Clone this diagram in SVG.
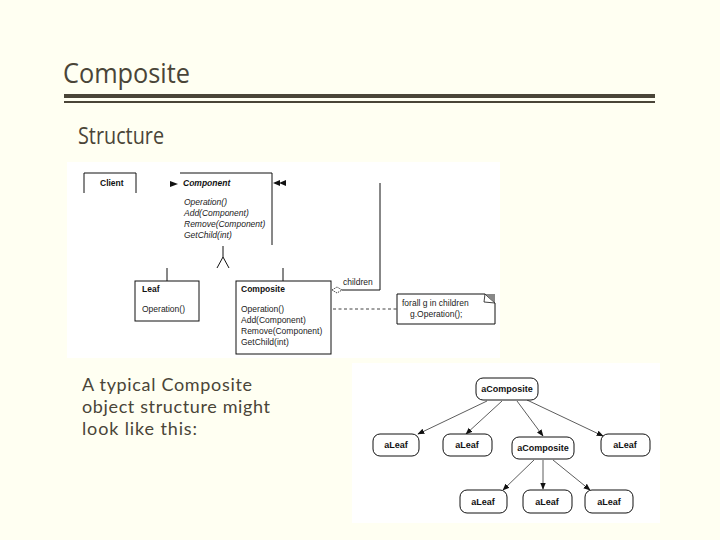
<svg xmlns="http://www.w3.org/2000/svg" width="720" height="540" viewBox="0 0 720 540">
<defs>
<style>
.bg{fill:#FFFFF2}
.panel{fill:#FFFFFF}
.title{font-family:"Open Sans","Liberation Sans",sans-serif;fill:#4a4538}
.body{font-family:"Lato","Open Sans","Liberation Sans",sans-serif;font-weight:400;fill:#4a4538;font-size:18px}
.u{font-family:"Liberation Sans",Arial,sans-serif;font-size:8.5px;fill:#222}
.ub{font-family:"Liberation Sans",Arial,sans-serif;font-size:8.5px;font-weight:bold;fill:#111}
.ui{font-family:"Liberation Sans",Arial,sans-serif;font-size:8.5px;font-style:italic;fill:#222}
.ubi{font-family:"Liberation Sans",Arial,sans-serif;font-size:8.5px;font-style:italic;font-weight:bold;fill:#111}
.ln{stroke:#111;stroke-width:1;fill:none}
.box{fill:#fff;stroke:#111;stroke-width:1}
.obj{fill:#fff;stroke:#111;stroke-width:1}
.ot{font-family:"Liberation Sans",Arial,sans-serif;font-size:9px;font-weight:bold;fill:#111;text-anchor:middle}
.oa{stroke:#333;stroke-width:0.8;fill:none}
</style>
<marker id="ah" viewBox="0 0 10 10" refX="9" refY="5" markerWidth="7" markerHeight="7" orient="auto-start-reverse" markerUnits="userSpaceOnUse">
<path d="M0,1 L10,5 L0,9 Z" fill="#111"/>
</marker>
</defs>
<rect class="bg" x="0" y="0" width="720" height="540"/>
<g id="header">
<text class="title" x="63" y="83" font-size="28" textLength="127" lengthAdjust="spacingAndGlyphs">Composite</text>
<rect x="64" y="94" width="591" height="4" fill="#4a4538"/>
<rect x="64" y="101" width="591" height="2" fill="#4a4538"/>
<text class="title" x="78" y="144" font-size="23" textLength="86" lengthAdjust="spacingAndGlyphs">Structure</text>
</g>
<rect class="panel" x="67" y="162" width="433" height="196"/>
<rect class="panel" x="352" y="363" width="308" height="160"/>
<g id="caption">
<text class="body" x="82" y="391" textLength="170" lengthAdjust="spacing">A typical Composite</text>
<text class="body" x="82" y="413" textLength="188" lengthAdjust="spacing">object structure might</text>
<text class="body" x="82" y="435" textLength="115" lengthAdjust="spacing">look like this:</text>
</g>
<g id="uml-connectors">
<polygon points="170,181 178,184 170,187" fill="#111"/>
<polygon points="273,183 280,180 280,186" fill="#111"/>
<polygon points="279,183 286,180 286,186" fill="#111"/>
<polyline class="ln" points="342,290 380,290 380,183"/>
<polygon points="332,290 337,287 342,290 337,293" fill="#fff" stroke="#111" stroke-width="0.8" stroke-dasharray="1.5,1"/>
<line class="ln" x1="223" y1="246" x2="223" y2="257"/>
<polyline class="ln" points="217,268 223,257 229,268"/>
<line class="ln" x1="167" y1="268" x2="167" y2="281"/>
<line class="ln" x1="283" y1="268" x2="283" y2="281"/>
<line x1="300" y1="309" x2="397" y2="309" stroke="#111" stroke-width="0.8" stroke-dasharray="3,2.5"/>
<polyline points="293,307 299,309 293,311" fill="none" stroke="#111" stroke-width="0.8"/>
</g>
<g id="client">
<polyline class="ln" points="84,193 84,173 136,173 136,193"/>
<text class="ub" x="100" y="186">Client</text>
</g>
<g id="component">
<polyline class="ln" points="180,173 272,173 272,245"/>
<text class="ubi" x="183" y="186">Component</text>
<text class="ui" x="184" y="205">Operation()</text>
<text class="ui" x="184" y="216">Add(Component)</text>
<text class="ui" x="184" y="227">Remove(Component)</text>
<text class="ui" x="184" y="238">GetChild(int)</text>
</g>
<g id="leaf">
<rect class="box" x="135" y="281" width="64" height="40"/>
<text class="ub" x="142" y="292">Leaf</text>
<text class="u" x="142" y="312">Operation()</text>
</g>
<g id="composite">
<rect class="box" x="236" y="281" width="95" height="73"/>
<text class="ub" x="241" y="292">Composite</text>
<text class="u" x="241" y="312">Operation()</text>
<text class="u" x="241" y="323">Add(Component)</text>
<text class="u" x="241" y="334">Remove(Component)</text>
<text class="u" x="241" y="345">GetChild(int)</text>
<text class="u" x="343" y="285">children</text>
</g>
<g id="note">
<path d="M397,294 H485 L495,303 V324 H397 Z" fill="#fff" stroke="#111" stroke-width="1"/>
<polygon points="485,294 495,294 495,303" fill="#888"/>
<polyline points="485,294 484,302 495,303" fill="none" stroke="#111" stroke-width="0.8"/>
<text class="u" x="402" y="306">forall g in children</text>
<text class="u" x="410" y="317">g.Operation();</text>
</g>
<g id="object-connectors">
<line class="oa" x1="487" y1="401" x2="418" y2="434" marker-end="url(#ah)"/>
<line class="oa" x1="502" y1="401" x2="466" y2="434" marker-end="url(#ah)"/>
<line class="oa" x1="517" y1="401" x2="543" y2="436" marker-end="url(#ah)"/>
<line class="oa" x1="527" y1="400" x2="603" y2="436" marker-end="url(#ah)"/>
<line class="oa" x1="534" y1="460" x2="503" y2="490" marker-end="url(#ah)"/>
<line class="oa" x1="543" y1="460" x2="543" y2="489" marker-end="url(#ah)"/>
<line class="oa" x1="553" y1="460" x2="590" y2="490" marker-end="url(#ah)"/>
</g>
<g id="obj-root">
<rect class="obj" x="476" y="378" width="62" height="22" rx="7"/>
<text class="ot" x="507" y="392">aComposite</text>
</g>
<g id="obj-leaf1">
<rect class="obj" x="373" y="434" width="46" height="22" rx="7"/>
<text class="ot" x="396" y="448">aLeaf</text>
</g>
<g id="obj-leaf2">
<rect class="obj" x="443" y="434" width="49" height="22" rx="7"/>
<text class="ot" x="467" y="448">aLeaf</text>
</g>
<g id="obj-composite">
<rect class="obj" x="512" y="437" width="62" height="22" rx="7"/>
<text class="ot" x="543" y="451">aComposite</text>
</g>
<g id="obj-leaf4">
<rect class="obj" x="601" y="434" width="49" height="22" rx="7"/>
<text class="ot" x="625" y="448">aLeaf</text>
</g>
<g id="obj-leaf5">
<rect class="obj" x="460" y="490" width="47" height="23" rx="7"/>
<text class="ot" x="483" y="505">aLeaf</text>
</g>
<g id="obj-leaf6">
<rect class="obj" x="523" y="490" width="49" height="23" rx="7"/>
<text class="ot" x="547" y="505">aLeaf</text>
</g>
<g id="obj-leaf7">
<rect class="obj" x="585" y="490" width="48" height="23" rx="7"/>
<text class="ot" x="609" y="505">aLeaf</text>
</g>
</svg>
